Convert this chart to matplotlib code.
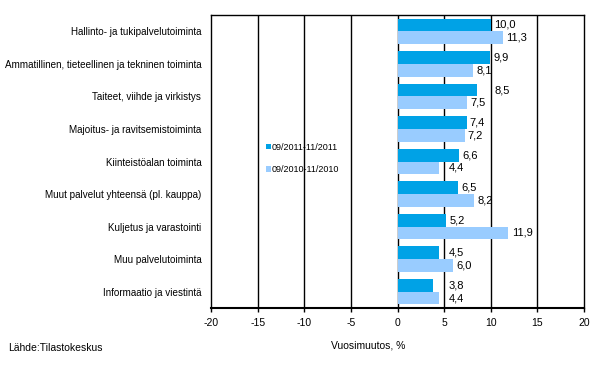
import matplotlib
matplotlib.use("Agg")
import matplotlib.pyplot as plt
import numpy as np

plt.rcParams['font.family'] = ['Liberation Sans', 'DejaVu Sans']

categories = ["Hallinto- ja tukipalvelutoiminta",
              "Ammatillinen, tieteellinen ja tekninen toiminta",
              "Taiteet, viihde ja virkistys",
              "Majoitus- ja ravitsemistoiminta",
              "Kiinteistöalan toiminta",
              "Muut palvelut yhteensä (pl. kauppa)",
              "Kuljetus ja varastointi",
              "Muu palvelutoiminta",
              "Informaatio ja viestintä"]
s2011 = [10.0, 9.9, 8.5, 7.4, 6.6, 6.5, 5.2, 4.5, 3.8]
s2010 = [11.3, 8.1, 7.5, 7.2, 4.4, 8.2, 11.9, 6.0, 4.4]
labels = ["09/2011-11/2011", "09/2010-11/2010"]
xticks = [-20, -15, -10, -5, 0, 5, 10, 15, 20]

dark = '#00A2E6'
light = '#99CCFF'

fig = plt.figure(figsize=(6.0, 3.73), dpi=100)
ax = fig.add_axes([211/600, 1-308/373, 373/600, 293/373])

y = np.arange(len(categories))
h = 0.39
b1 = ax.barh(y - h/2, s2011, height=h, color=dark, label=labels[0], zorder=3)
b2 = ax.barh(y + h/2, s2010, height=h, color=light, label=labels[1], zorder=3)

grid = [g for g in xticks[1:-1] if g != 0]
for bars, vals in ((b1, s2011), (b2, s2010)):
    for bar, v in zip(bars, vals):
        x = v + 0.35
        # keep labels clear of the gridlines, as in the original
        for g in grid:
            if x < g < x + 1.4:
                x = g + 0.45
        ax.text(x, bar.get_y() + bar.get_height()/2, f"{v:.1f}".replace('.', ','),
                va='center', ha='left', fontsize=8, zorder=4)

ax.set_xlim(-20, 20)
ax.set_ylim(len(categories) - 0.5, -0.5)
ax.set_xticks(xticks)
ax.set_xticklabels([str(t) for t in xticks], fontsize=7.5)
ax.set_yticks(y)
ax.set_yticklabels(categories, fontsize=7.1)
ax.tick_params(axis='y', length=0, pad=7)
ax.tick_params(axis='x', length=3, width=1, direction='out', pad=4)
for t in grid:
    ax.axvline(t, color='black', lw=1, zorder=2)
ax.axvline(0, color='black', lw=1, zorder=2)
for sp in ax.spines.values():
    sp.set_color('black')
    sp.set_linewidth(1)
ax.spines['bottom'].set_linewidth(1.5)

ax.legend(loc='upper left', bbox_to_anchor=(0.135, 0.58), frameon=False,
          fontsize=6.5, handlelength=0.55, handleheight=0.55, handletextpad=0.1,
          labelspacing=1.5, borderpad=0)

fig.text(368/600, 1-345/373, "Vuosimuutos, %", ha='center', va='center', fontsize=7.5)
fig.text(8/600, 1-348/373, "Lähde:Tilastokeskus", ha='left', va='center', fontsize=7.5)

fig.savefig("out.png", dpi=100)
